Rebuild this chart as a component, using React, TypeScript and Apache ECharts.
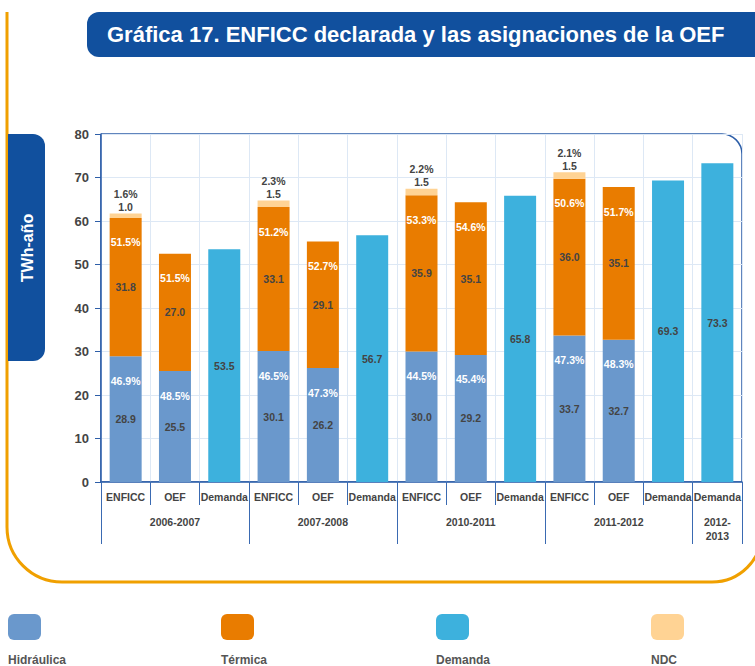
import React, { useEffect, useRef } from "react";
import * as echarts from "echarts";

const categories = ["ENFICC", "OEF", "Demanda", "ENFICC", "OEF", "Demanda", "ENFICC", "OEF", "Demanda", "ENFICC", "OEF", "Demanda", "Demanda"];
const groupNames = ["2006-2007", "2007-2008", "2010-2011", "2011-2012", "2012-\n2013"];
const groupSizes = [3, 3, 3, 3, 1];

const hidraulica = [28.9, 25.5, null, 30.1, 26.2, null, 30.0, 29.2, null, 33.7, 32.7, null, null];
const termica = [31.8, 27.0, null, 33.1, 29.1, null, 35.9, 35.1, null, 36.0, 35.1, null, null];
const ndc = [1.0, null, null, 1.5, null, null, 1.5, null, null, 1.5, null, null, null];
const demanda = [null, null, 53.5, null, null, 56.7, null, null, 65.8, null, null, 69.3, 73.3];

const hidraulicaPct = ["46.9%", "48.5%", null, "46.5%", "47.3%", null, "44.5%", "45.4%", null, "47.3%", "48.3%", null, null];
const termicaPct = ["51.5%", "51.5%", null, "51.2%", "52.7%", null, "53.3%", "54.6%", null, "50.6%", "51.7%", null, null];
const ndcPct = ["1.6%", null, null, "2.3%", null, null, "2.2%", null, null, "2.1%", null, null, null];

const yMin = 0;
const yMax = 80;
const yStep = 10;

const legendNames = ["Hidráulica", "Térmica", "Demanda", "NDC"];

const C_HID = "#6a98cc";
const C_TER = "#e97c00";
const C_DEM = "#3db1dd";
const C_NDC = "#ffd394";
const C_NAVY = "#11509e";
const C_AXIS = "#2d5ea8";
const C_GRID = "#dde8f5";
const C_TEXT = "#444444";
const FONT = "'Liberation Sans', Arial, sans-serif";

echarts.graphic.registerShape(
  "orangeFrame",
  echarts.graphic.extendPath("M 7 12 L 7 527 A 55 55 0 0 0 62 582 L 712 582 A 50 50 0 0 0 762 532", {})
);

export default function App() {
  const ref = useRef<HTMLDivElement>(null);

  useEffect(() => {
    if (!ref.current) return;
    const chart = echarts.init(ref.current, null, { renderer: "svg" });

    // group axis: labels at group centers, ticks at group starts
    const groupAxisData: string[] = [];
    const groupStarts: number[] = [];
    let idx = 0;
    groupSizes.forEach((size, g) => {
      groupStarts.push(idx);
      for (let k = 0; k < size; k++) {
        groupAxisData.push(k === Math.floor(size / 2) ? groupNames[g] : "");
      }
      idx += size;
    });

    const fmtVal = (p: any) => (p.value == null ? "" : Number(p.value).toFixed(1));
    const valueLabel = {
      show: true,
      position: "inside",
      color: C_TEXT,
      fontWeight: "bold",
      fontSize: 10.5,
      fontFamily: FONT,
      formatter: fmtVal,
    };
    const pctLabel = (arr: (string | null)[]) => ({
      show: true,
      position: "insideTop",
      distance: 19,
      color: "#ffffff",
      fontWeight: "bold",
      fontSize: 10.5,
      fontFamily: FONT,
      formatter: (p: any) => arr[p.dataIndex] ?? "",
    });

    const barBase = {
      type: "bar",
      barWidth: 32,
      barGap: "-100%",
      emphasis: { disabled: true },
    };
    const overlayBase = {
      ...barBase,
      stack: "pct",
      silent: true,
      itemStyle: { color: "rgba(0,0,0,0)" },
      tooltip: { show: false },
    };

    const legendX = [8, 221, 436, 651];
    const legendColors = [C_HID, C_TER, C_DEM, C_NDC];
    const legendGraphics: any[] = [];
    legendNames.forEach((n, i) => {
      legendGraphics.push({
        type: "rect",
        x: legendX[i],
        y: 614,
        shape: { width: 33, height: 26, r: 6 },
        style: { fill: legendColors[i] },
      });
      legendGraphics.push({
        type: "text",
        x: legendX[i],
        y: 660,
        style: {
          text: n,
          fill: "#555555",
          font: `bold 12px ${FONT}`,
          verticalAlign: "middle",
          align: "left",
        },
      });
    });

    const option: any = {
      animation: false,
      textStyle: { fontFamily: FONT },
      title: {
        text: "Gráfica 17. ENFICC declarada y las asignaciones de la OEF",
        left: 102,
        top: 18,
        textStyle: { color: "#ffffff", fontSize: 22, fontWeight: "bold", fontFamily: FONT },
        z: 10,
      },
      graphic: [
        {
          type: "orangeFrame",
          x: 0,
          y: 0,
          z: -10,
          style: { fill: "none", stroke: "#f0a000", lineWidth: 3 },
        },
        {
          type: "rect",
          x: 87,
          y: 12,
          z: -5,
          shape: { width: 700, height: 45, r: 12 },
          style: { fill: C_NAVY },
        },
        {
          type: "rect",
          x: 8,
          y: 134,
          z: -5,
          shape: { width: 37, height: 227, r: [0, 12, 12, 0] },
          style: { fill: C_NAVY },
        },
        {
          type: "text",
          x: 27,
          y: 248,
          rotation: Math.PI / 2,
          style: {
            text: "TWh-año",
            fill: "#ffffff",
            font: `bold 16px ${FONT}`,
            align: "center",
            verticalAlign: "middle",
          },
        },
        {
          type: "rect",
          x: 101,
          y: 134,
          z: -1,
          shape: { width: 641, height: 348, r: [0, 20, 0, 0] },
          style: { fill: "none", stroke: C_AXIS, lineWidth: 1.5 },
        },
        ...legendGraphics,
      ],
      grid: { left: 101, top: 134, width: 641, height: 348, containLabel: false },
      xAxis: [
        {
          type: "category",
          data: categories,
          position: "bottom",
          axisLine: { show: true, lineStyle: { color: C_AXIS, width: 1.5 } },
          axisTick: { show: true, length: 23, interval: 0, alignWithLabel: false, lineStyle: { color: "#3a6ab2" } },
          axisLabel: { interval: 0, margin: 9, color: C_TEXT, fontWeight: "bold", fontSize: 10.5, fontFamily: FONT },
          splitLine: { show: true, interval: 0, lineStyle: { color: C_GRID } },
        },
        {
          type: "category",
          data: groupAxisData,
          position: "bottom",
          axisLine: { show: false },
          axisTick: {
            show: true,
            length: 62,
            alignWithLabel: false,
            interval: (i: number) => groupStarts.includes(i),
            lineStyle: { color: "#3a6ab2" },
          },
          axisLabel: {
            interval: 0,
            margin: 33,
            lineHeight: 14,
            color: C_TEXT,
            fontWeight: "bold",
            fontSize: 10.5,
            fontFamily: FONT,
          },
          splitLine: { show: false },
        },
      ],
      yAxis: {
        type: "value",
        min: yMin,
        max: yMax,
        interval: yStep,
        axisLine: { show: true, lineStyle: { color: C_AXIS, width: 1.5 } },
        axisTick: { show: true, length: 6, lineStyle: { color: C_AXIS } },
        axisLabel: { margin: 12, color: C_TEXT, fontWeight: "bold", fontSize: 13, fontFamily: FONT },
        splitLine: { show: true, lineStyle: { color: C_GRID } },
      },
      series: [
        { ...barBase, name: "Hidráulica", stack: "val", data: hidraulica, itemStyle: { color: C_HID }, label: valueLabel },
        { ...barBase, name: "Térmica", stack: "val", data: termica, itemStyle: { color: C_TER }, label: valueLabel },
        {
          ...barBase,
          name: "NDC",
          stack: "val",
          data: ndc,
          itemStyle: { color: C_NDC },
          label: { ...valueLabel, position: "top", distance: 1 },
        },
        { ...barBase, name: "Demanda", stack: "val", data: demanda, itemStyle: { color: C_DEM }, label: valueLabel },
        { ...overlayBase, name: "Hidráulica %", data: hidraulica, label: pctLabel(hidraulicaPct) },
        { ...overlayBase, name: "Térmica %", data: termica, label: pctLabel(termicaPct) },
        {
          ...overlayBase,
          name: "NDC %",
          data: ndc,
          label: { ...pctLabel(ndcPct), position: "top", distance: 14, color: C_TEXT },
        },
      ],
    };

    chart.setOption(option);
    return () => chart.dispose();
  }, []);

  return <div ref={ref} style={{ width: 755, height: 666, position: "absolute", left: 0, top: 0 }} />;
}
